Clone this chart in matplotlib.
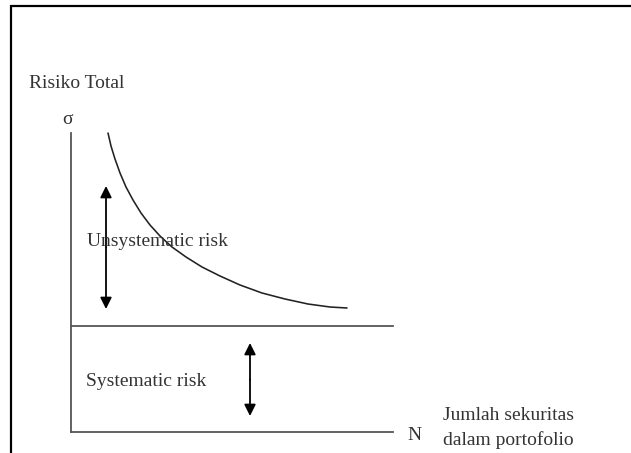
import matplotlib
matplotlib.use("Agg")
import matplotlib.pyplot as plt

# Diagram values (pixel space of the reference)
curve_x = [108, 111, 115, 120, 126, 133, 141, 150, 160, 172, 186, 202, 220, 240, 262, 285, 308, 330, 347]
curve_y = [133, 146, 159, 173, 187, 200, 213, 225, 236, 247, 257, 267, 276, 285, 293, 299, 304, 307, 308]
axis_origin = (71, 432)
y_axis_top = 133
x_axis_right = 393
systematic_level = 326
unsys_arrow = (106, 186, 309)   # x, y_top, y_bottom
sys_arrow = (250, 343, 416)

labels = {
    "title": "Risiko Total",
    "sigma": "σ",
    "unsys": "Unsystematic risk",
    "sys": "Systematic risk",
    "n": "N",
    "xlabel1": "Jumlah sekuritas",
    "xlabel2": "dalam portofolio",
}

W, H = 631, 453
fig = plt.figure(figsize=(W / 100, H / 100), dpi=100)
ax = fig.add_axes([0, 0, 1, 1])
ax.set_xlim(0, W)
ax.set_ylim(H, 0)
ax.axis("off")

lw = 0.72  # points per pixel
# outer frame (top and left)
ax.plot([11, 11, W], [H, 6, 6], color="black", lw=2.2 * lw, solid_joinstyle="miter")

axc = "#555555"
ox, oy = axis_origin
ax.plot([ox, ox], [y_axis_top, oy], color=axc, lw=1.8 * lw)
ax.plot([ox, x_axis_right], [oy, oy], color=axc, lw=1.8 * lw)
ax.plot([ox, x_axis_right], [systematic_level, systematic_level], color=axc, lw=1.8 * lw)

ax.plot(curve_x, curve_y, color="#222222", lw=1.6 * lw, solid_capstyle="round")

for (x, y0, y1) in (unsys_arrow, sys_arrow):
    mid = (y0 + y1) / 2
    for tip in (y0, y1):
        ax.annotate("", xy=(x, tip), xytext=(x, mid),
                    arrowprops=dict(arrowstyle="-|>", color="black", lw=1.8 * lw,
                                    mutation_scale=17, shrinkA=0, shrinkB=0))

font = dict(family="Liberation Serif", color="#333333", fontsize=14)
ax.text(29, 84, labels["title"], va="center", ha="left", **font)
ax.text(62, 120, labels["sigma"], va="center", ha="left", **font)
ax.text(87, 241, labels["unsys"], va="center", ha="left", **font)
ax.text(86, 382, labels["sys"], va="center", ha="left", **font)
ax.text(407, 436, labels["n"], va="center", ha="left", **font)
ax.text(443, 416, labels["xlabel1"], va="center", ha="left", **font)
ax.text(443, 440, labels["xlabel2"], va="center", ha="left", **font)

fig.savefig("out.png", dpi=100)
